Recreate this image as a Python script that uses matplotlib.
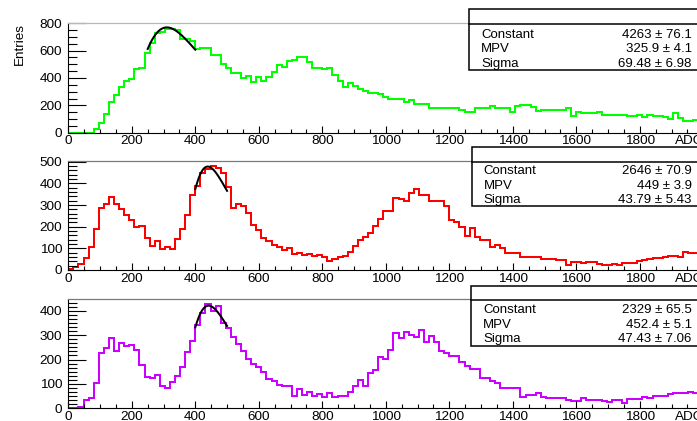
import numpy as np
import matplotlib
matplotlib.use('Agg')
import matplotlib.pyplot as plt
from matplotlib.ticker import MultipleLocator, FixedLocator
from matplotlib.patches import Rectangle
from matplotlib.lines import Line2D
from matplotlib.transforms import offset_copy

plt.rcParams['font.family'] = ['Liberation Sans', 'DejaVu Sans']

# histogram range: 125 bins of 16 ADC over 0..2000
adc_lo, adc_hi, n_bins = 0, 2000, 125

green_counts = [0, 0, 0, 0, 0, 24, 73, 134, 222, 276, 337, 375, 390, 463, 476,
                580, 653, 727, 740, 755, 755, 750, 683, 683, 667, 610, 617, 617, 568, 570,
                505, 470, 440, 434, 398, 415, 373, 405, 380, 405, 447, 495, 483, 524, 530,
                551, 555, 520, 476, 476, 465, 470, 425, 380, 337, 361, 340, 317, 305, 293,
                290, 283, 259, 244, 244, 244, 227, 240, 207, 207, 207, 183, 183, 178, 178,
                178, 178, 165, 154, 154, 178, 178, 180, 195, 178, 178, 178, 154, 195, 202,
                202, 185, 161, 166, 166, 166, 166, 168, 178, 122, 154, 141, 141, 141, 154,
                129, 129, 129, 129, 126, 122, 122, 129, 117, 129, 125, 122, 117, 98, 141,
                105, 88, 88, 90, 92]

red_counts = [3, 12, 28, 54, 105, 190, 287, 303, 337, 303, 280, 256, 233, 199, 202,
              147, 109, 132, 96, 106, 96, 143, 191, 256, 345, 388, 446, 466, 481, 469,
              450, 383, 287, 303, 295, 264, 210, 183, 148, 132, 116, 107, 93, 101, 75,
              78, 70, 75, 65, 67, 62, 42, 50, 62, 65, 85, 109, 140, 152, 171,
              205, 236, 272, 272, 334, 326, 318, 354, 373, 345, 345, 318, 321, 321, 295,
              233, 222, 199, 158, 194, 152, 140, 140, 106, 117, 101, 78, 78, 78, 62,
              62, 62, 62, 51, 51, 51, 45, 45, 23, 39, 39, 34, 39, 39, 28,
              23, 23, 28, 23, 31, 34, 34, 43, 47, 50, 54, 54, 59, 65, 65,
              62, 81, 78, 78, 78]

violet_counts = [0, 0, 7, 34, 41, 105, 225, 246, 287, 236, 266, 255, 259, 239, 177,
                 130, 123, 137, 91, 82, 109, 132, 168, 232, 276, 341, 389, 427, 400, 420,
                 348, 328, 293, 262, 235, 202, 182, 171, 150, 119, 113, 96, 91, 91, 50,
                 78, 55, 68, 50, 60, 48, 62, 48, 52, 52, 68, 91, 116, 91, 143,
                 157, 212, 201, 239, 307, 287, 311, 300, 293, 321, 273, 296, 273, 236, 225,
                 214, 214, 191, 173, 160, 160, 123, 123, 113, 105, 82, 82, 82, 82, 48,
                 55, 55, 61, 48, 41, 41, 41, 41, 34, 31, 31, 41, 34, 34, 34,
                 31, 27, 34, 34, 23, 37, 37, 37, 48, 41, 50, 50, 50, 59, 61,
                 61, 61, 68, 61, 61]

# landau fit results (Constant, MPV, Sigma) and fit ranges
fit_const = [4263, 2646, 2329]
fit_mpv = [325.9, 449, 452.4]
fit_sigma = [69.48, 43.79, 47.43]
fit_range = [(250, 400), (400, 500), (400, 500)]
stat_values = [["4263 \u00b1 76.1", "325.9 \u00b1 4.1", "69.48 \u00b1 6.98"],
               ["2646 \u00b1 70.9", "449 \u00b1 3.9", "43.79 \u00b1 5.43"],
               ["2329 \u00b1 65.5", "452.4 \u00b1 5.1", "47.43 \u00b1 7.06"]]
stat_names = ["Constant", "MPV", "Sigma"]

x_ticks = [0, 200, 400, 600, 800, 1000, 1200, 1400, 1600, 1800]
y_max = [800, 505, 448]
y_major = [200, 100, 100]
y_minor = [50, 20, 100 / 6]


def landau(x, mpv, sigma):
    # ROOT TMath::Landau (not normalised)
    lam = (np.asarray(x) - mpv) / sigma
    t = np.linspace(1e-9, 40, 20001)
    f = np.exp(-t * np.log(t) - lam[:, None] * t) * np.sin(np.pi * t)
    return np.trapezoid(f, t, axis=1) / np.pi


W, H = 697, 421
fig = plt.figure(figsize=(W / 100, H / 100), dpi=100)
fig.patch.set_facecolor('white')

edges = np.linspace(adc_lo, adc_hi, n_bins + 1)
counts = [green_counts, red_counts, violet_counts]
colors = ['#00ff00', '#ff0000', '#cc00ff']
top_col = ['#b8b8b8', '#7a7a7a', '#7a7a7a']
ax_top = [23.3, 160.7, 299.0]
ax_bot = [132.7, 270.0, 408.3]
x_left, x_right = 68.3, 703.3

# stats boxes in pixels: left, top, divider, bottom, text baselines
boxes = [(469, 9.3, 24.3, 70.0, [37.7, 52.3, 66.7]),
         (471.7, 147.3, 161.7, 206.0, [174.0, 188.5, 203.0]),
         (471.0, 286.0, 300.0, 345.7, [313.0, 327.6, 342.0])]

for i in range(3):
    ax = fig.add_axes([x_left / W, 1 - ax_bot[i] / H,
                       (x_right - x_left) / W, (ax_bot[i] - ax_top[i]) / H])
    ax.stairs(counts[i], edges, baseline=None, color=colors[i], lw=1.45, clip_on=False)

    xf = np.linspace(fit_range[i][0], fit_range[i][1], 200)
    ax.plot(xf, fit_const[i] * landau(xf, fit_mpv[i], fit_sigma[i]), color='black', lw=1.45)

    ax.set_xlim(adc_lo, adc_hi)
    ax.set_ylim(0, y_max[i])
    ax.xaxis.set_major_locator(FixedLocator(x_ticks))
    ax.xaxis.set_minor_locator(MultipleLocator(50))
    ax.yaxis.set_major_locator(MultipleLocator(y_major[i]))
    ax.yaxis.set_minor_locator(MultipleLocator(y_minor[i]))

    ax.tick_params(axis='both', which='both', direction='in', width=0.8,
                   labelsize=9.7, colors='black')
    ax.tick_params(axis='y', which='major', length=13, pad=4.5)
    ax.tick_params(axis='y', which='minor', length=6.5)
    ax.tick_params(axis='x', which='major', length=5, pad=2)
    ax.tick_params(axis='x', which='minor', length=2.6)

    for s in ['left', 'bottom']:
        ax.spines[s].set_linewidth(0.8)
        ax.spines[s].set_color('black')
    ax.spines['top'].set_color(top_col[i])
    ax.spines['top'].set_linewidth(0.9)
    ax.spines['right'].set_visible(False)

    ax.text(1.0, 0.0, 'ADC', fontsize=9.7, ha='right', va='top',
            transform=offset_copy(ax.transAxes, fig=fig, x=0, y=-2, units='points'))

    # stats box
    bx, btop, bdiv, bbot, rows = boxes[i]
    fig.add_artist(Rectangle((bx / W, 1 - bbot / H), 260 / W, (bbot - btop) / H,
                             transform=fig.transFigure, facecolor='white',
                             edgecolor='black', lw=1.1, zorder=5))
    fig.add_artist(Line2D([bx / W, 1.0], [1 - bdiv / H, 1 - bdiv / H],
                          transform=fig.transFigure, color='black', lw=1.1, zorder=6))
    for j in range(3):
        fig.text((bx + 12) / W, 1 - rows[j] / H, stat_names[j], fontsize=9.5,
                 ha='left', va='baseline', zorder=7)
        fig.text(691.7 / W, 1 - rows[j] / H, stat_values[i][j], fontsize=9.5,
                 ha='right', va='baseline', zorder=7)

fig.text(20 / W, 1 - 23.3 / H, 'Entries', rotation=90, fontsize=9.7,
         ha='center', va='top')

fig.savefig('out.png', dpi=100)
